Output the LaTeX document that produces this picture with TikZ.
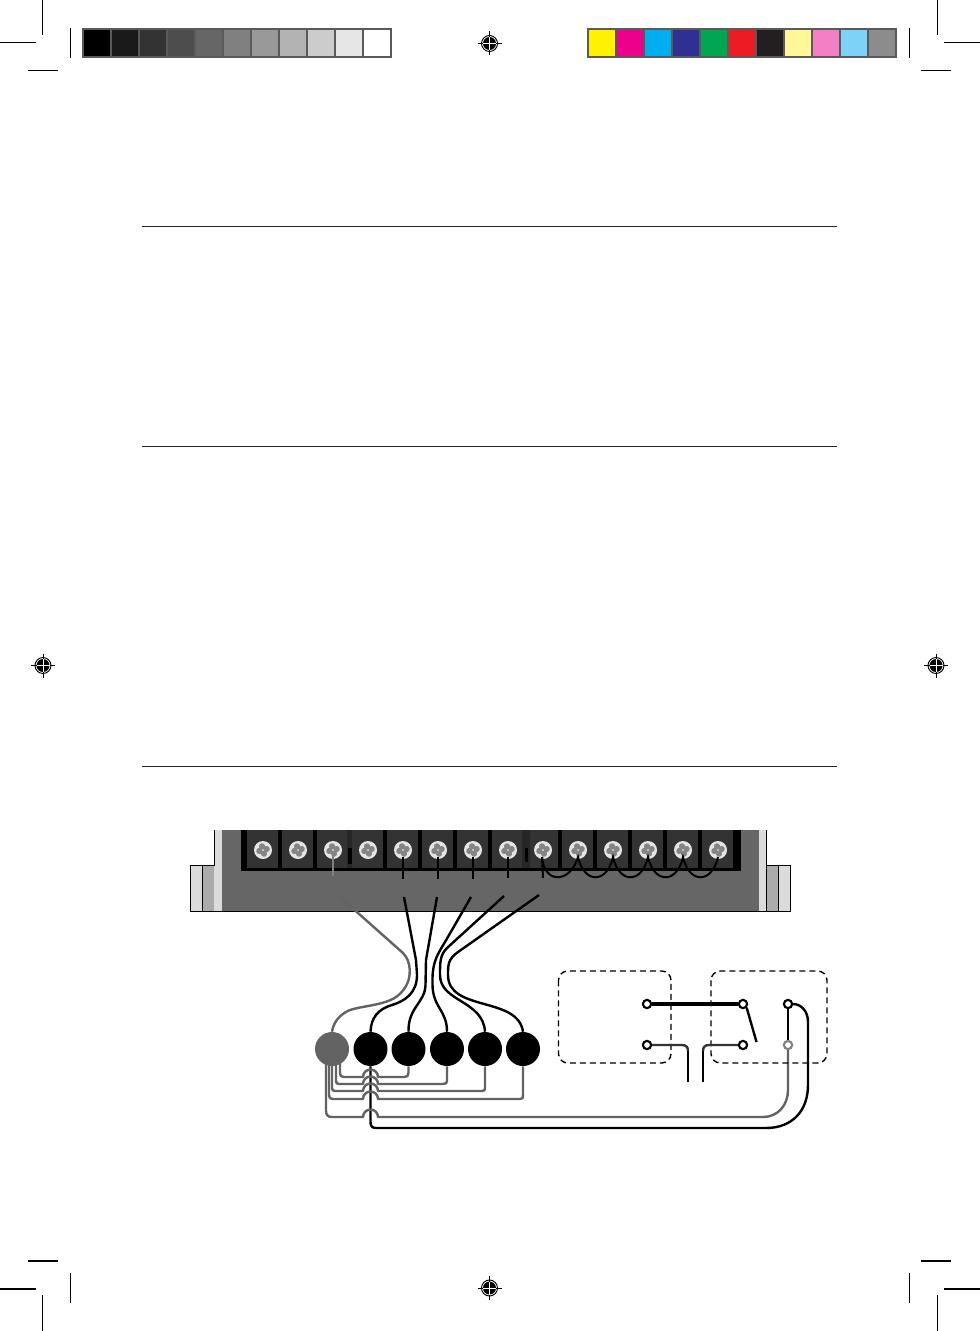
\documentclass[tikz,border=0pt]{standalone}
\usetikzlibrary{calc}
\definecolor{wiregray}{HTML}{636363}
\definecolor{platecol}{HTML}{666666}
\definecolor{barframe}{HTML}{5A5A5A}
\tikzset{
  crop/.style={draw=black,line width=0.9pt},
  rulecol/.style={draw=black!85,line width=0.75pt},
  wireblack/.style={draw=black,line width=1.8pt,line join=round},
  wiregrey/.style={draw=wiregray,line width=1.8pt,line join=round},
  pin/.style={circle,draw=black,fill=white,line width=1.6pt,inner sep=0pt,minimum size=6.2pt},
  pingrey/.style={pin,draw=wiregray!80},
  blob/.style={circle,fill=black,inner sep=0pt,minimum size=25.5pt},
  blobgrey/.style={blob,fill=wiregray},
  dashbox/.style={draw=black,line width=1.05pt,dash pattern=on 4.5pt off 3pt,rounded corners=7pt},
}
\newcommand{\regmark}[3]{%
  \node[circle,draw=black,line width=0.7pt,fill=white,inner sep=0pt,minimum size=12pt] (#1o) at (#2,#3) {};
  \fill[black] (#2,#3) circle[radius=6.5];
  \draw[white,line width=0.7pt] (#2-6.5,#3) -- (#2+6.5,#3) (#2,#3-6.5) -- (#2,#3+6.5);
  \draw[black,line width=0.7pt] (#2-12,#3) -- (#2-6.5,#3) (#2+6.5,#3) -- (#2+12,#3) (#2,#3-12) -- (#2,#3-6.5) (#2,#3+6.5) -- (#2,#3+12);
}
\begin{document}
\begin{tikzpicture}[x=0.75pt,y=-0.75pt]
\useasboundingbox (0,0) rectangle (980,1331);
\fill[white] (0,0) rectangle (980,1331);

% crop marks
\draw[crop] (42.5,0) -- (42.5,35) (0,42.5) -- (36,42.5) (70.5,28) -- (70.5,58) (28,70.5) -- (58,70.5);
\draw[crop] (937.8,0) -- (937.8,35) (944,42.5) -- (980,42.5) (909.5,28) -- (909.5,58) (921,70.5) -- (951,70.5);
\draw[crop] (42.5,1295) -- (42.5,1331) (0,1289) -- (36,1289) (70.5,1273) -- (70.5,1303) (28,1261) -- (58,1261);
\draw[crop] (937.8,1295) -- (937.8,1331) (944,1289) -- (980,1289) (909.5,1273) -- (909.5,1303) (921,1261) -- (951,1261);

% registration marks
\regmark{ra}{489.5}{43.5}
\regmark{rb}{43}{665.5}
\regmark{rc}{936}{665.5}
\regmark{rd}{489.5}{1288}

% colour bars
\fill[barframe] (82,28) rectangle (392,58);
\fill[barframe] (587,28) rectangle (897,58);
\foreach \c [count=\i from 0] in {000000,1A1A1A,333333,4D4D4D,666666,808080,999999,B3B3B3,CCCCCC,E6E6E6,FFFFFF}{
  \definecolor{cc}{HTML}{\c}
  \fill[cc] ({84+\i*28},30) rectangle ++(26.4,26);
}
\foreach \c [count=\i from 0] in {FFF200,EC008C,00AEEF,2E3192,00A651,ED1C24,231F20,FFF799,F47FC4,7DD3F7,8C8C8C}{
  \definecolor{cc}{HTML}{\c}
  \fill[cc] ({589+\i*28},30) rectangle ++(26.4,26);
}

% rules
\draw[rulecol] (142,226.5) -- (837,226.5);
\draw[rulecol] (142,446.5) -- (837,446.5);
\draw[rulecol] (142,766.5) -- (837,766.5);

% terminal block
\fill[black!14,draw=black,line width=0.7pt] (190.5,865.5) rectangle (202,911);
\fill[black!33,draw=black,line width=0.4pt] (202,865.5) rectangle (214,911);
\fill[black!14] (214,830) rectangle (222,911);
\draw[black,line width=0.7pt] (214,865.5) -- (214,830);
\fill[black!33,draw=black,line width=0.4pt] (766,865.5) rectangle (778,911);
\fill[black!14,draw=black,line width=0.7pt] (778,865.5) rectangle (790.5,911);
\fill[black!14] (759,830) rectangle (766,911);
\draw[black,line width=0.7pt] (766,865.5) -- (766,830);
\fill[platecol] (222,830) rectangle (759,911);
\draw[black,line width=0.7pt] (190.5,911) -- (790.5,911);
\fill[black] (241,830) rectangle (740.5,871);
\foreach \n [count=\i from 0] in {263,298,333,368,403,438,473,508,543,578,613,648,683,718}{
  \fill[black!80] (\n-16.5,830) rectangle (\n+14.5,868);
  \fill[black!10] (\n,850) circle[radius=9];
  \begin{scope}[shift={(\n,850)},rotate=15]
    \fill[black!48] (-3.8,0) circle[radius=3.1] (3.8,0) circle[radius=3.1] (0,-3.8) circle[radius=3.1] (0,3.8) circle[radius=3.1];
  \end{scope}
}
\fill[black!85] (347,830) rectangle (352,868);
\fill[black] (347.5,848) rectangle (351.5,864);
\fill[black!85] (522,830) rectangle (530,868);
\fill[black] (524.5,848) rectangle (528,862);

% named anchors
\coordinate (s3) at (333,855);
\coordinate (s5) at (403,857);
\coordinate (s6) at (438,857);
\coordinate (s7) at (473,857);
\coordinate (s8) at (508,857);
\coordinate (s9) at (542,857);

% short stubs
\draw[black!50,line width=1.5pt] (s3) -- (333,876);
\draw[black,line width=1.5pt] (s5) -- (403,879);
\draw[black,line width=1.5pt] (s6) -- (438,879);
\draw[black,line width=1.5pt] (s7) -- (473,879);
\draw[black,line width=1.5pt] (s8) -- (508,878);
\draw[black,line width=1.5pt] (s9) -- (543,878);

% jumpers
\draw[black,line width=1.5pt] (542,857) .. controls (544,884) and (570,884) .. (578,857)
  .. controls (584,884) and (607,884) .. (613,857)
  .. controls (619,884) and (642,884) .. (648,857)
  .. controls (654,884) and (677,884) .. (683,857)
  .. controls (689,884) and (712,884) .. (718,857);

% connection blobs
\node[blobgrey] (b0) at (332,1049) {};
\node[blob] (b1) at (370.5,1049) {};
\node[blob] (b2) at (408.5,1049) {};
\node[blob] (b3) at (447,1049) {};
\node[blob] (b4) at (485,1049) {};
\node[blob] (b5) at (523,1049) {};

% bundled wires up to the terminal block
\draw[wiregrey] (340,897) -- (403,953) .. controls (412,962) and (411,978) .. (406,986)
  .. controls (399,998) and (390,1001) .. (378,1004) .. controls (365,1007) and (352,1008) .. (346,1012)
  .. controls (337,1017) and (333,1025) .. (b0.north);
\draw[wireblack] (404,897) -- (416,960) -- (417,975) .. controls (417,993) and (405,1001) .. (392,1005)
  .. controls (378,1009) and (371,1018) .. (b1.north);
\draw[wireblack] (437,897) -- (426,960) -- (425.5,985) .. controls (425,1003) and (408,1007) .. (b2.north);
\draw[wireblack] (471,897) -- (445,942) .. controls (435,958) and (432,965) .. (432.5,985)
  .. controls (433,1008) and (447,1010) .. (b3.north);
\draw[wireblack] (504,896) -- (447,948) .. controls (440,955) and (440,962) .. (440,975)
  .. controls (440,1002) and (483,1000) .. (b4.north);
\draw[wireblack] (539,895) -- (458,952) .. controls (448,959) and (448,965) .. (448,975)
  .. controls (448,1012) and (518,996) .. (b5.north);

% pins
\node[pin] (p1) at (647,1004) {};
\node[pin] (p2) at (743,1004) {};
\node[pin] (p3) at (647,1045) {};
\node[pin] (p4) at (743,1045) {};
\node[pin] (p5) at (788,1004) {};
\node[pingrey] (p6) at (788,1045) {};
\coordinate (swtip) at (756.5,1042);
\coordinate (leadL) at (688,1082);
\coordinate (leadR) at (703,1082);

% common black line first, grey hops over it
\draw[black,line width=1.8pt] (b1.south) -- (370.5,1122) .. controls (370.5,1126) and (372,1128) .. (376,1128) -- (766,1128)
  .. controls (793,1128) and (808,1110) .. (808,1085) -- (808,1022) .. controls (808,1010) and (800,1004) .. (p5.east);

% grey return wires with hops over the common black line
\draw[wiregrey] (340,1060) -- (340,1073) .. controls (340,1076) and (341,1077) .. (344,1077) -- (363,1077)
  arc[start angle=180,end angle=360,radius=7.5] -- (404,1077) .. controls (407,1077) and (408.5,1076) .. (408.5,1073) -- (b2.south);
\draw[wiregrey] (336,1060) -- (336,1081) .. controls (336,1083) and (337,1084) .. (339,1084) -- (363,1084)
  arc[start angle=180,end angle=360,radius=7.5] -- (443,1084) .. controls (446,1084) and (447,1083) .. (447,1081) -- (b3.south);
\draw[wiregrey] (332,1060) -- (332,1088) .. controls (332,1090) and (333,1091) .. (335,1091) -- (363,1091)
  arc[start angle=180,end angle=360,radius=7.5] -- (482,1091) .. controls (484.5,1091) and (485,1090) .. (485,1088) -- (b4.south);
\draw[wiregrey] (329,1060) -- (329,1095) .. controls (329,1098) and (330,1099) .. (333,1099) -- (363,1099)
  arc[start angle=180,end angle=360,radius=7.5] -- (520,1099) .. controls (523,1099) and (523,1098) .. (523,1095) -- (b5.south);
\draw[wiregrey] (326,1060) -- (326,1111) .. controls (326,1115) and (328,1117) .. (332,1117) -- (363,1117)
  arc[start angle=180,end angle=360,radius=7.5] -- (763,1117) .. controls (778,1117) and (788,1105) .. (788,1090) -- (p6.south);

% dashed enclosures
\draw[dashbox] (558.5,971) rectangle (671,1063);
\draw[dashbox] (711,971) rectangle (827,1063);

% switch wiring
\draw[black,line width=2.4pt] (p1.east) -- (p2.west);
\draw[black,line width=1.8pt] (p2.south east) -- (swtip);
\draw[black,line width=1.8pt] (p5.south) -- (p6.north);
\draw[black!80,line width=1.8pt] (p3.east) -- (682,1045) .. controls (686,1045) and (688,1047) .. (688,1051);
\draw[black,line width=1.8pt] (688,1051) -- (leadL);
\draw[black!80,line width=1.8pt] (p4.west) -- (709,1045) .. controls (705,1045) and (703,1047) .. (703,1051);
\draw[black,line width=1.8pt] (703,1051) -- (leadR);
\end{tikzpicture}
\end{document}
